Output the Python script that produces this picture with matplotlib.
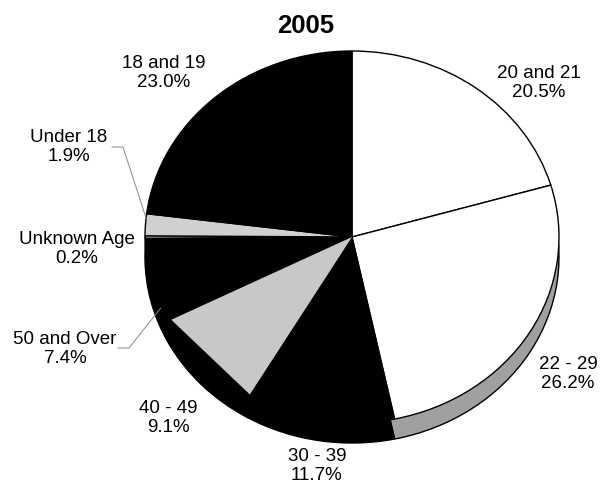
import matplotlib.pyplot as plt
import numpy as np

plt.rcParams['font.family'] = ['Liberation Sans', 'DejaVu Sans']

# age groups, clockwise from the top
labels = ['20 and 21', '22 - 29', '30 - 39', '40 - 49', '50 and Over',
          'Unknown Age', 'Under 18', '18 and 19']
shares = [20.5, 26.2, 11.7, 9.1, 7.4, 0.2, 1.9, 23.0]
top_colors = ['white', 'white', 'black', 'black', 'black', 'white', '#d0d0d0', 'black']
side_colors = ['black', '#a0a0a0', 'black', 'black', 'black', 'black', 'black', 'black']

# pie geometry in pixels (center, x-radius, y-radius, rim depth)
cx, cy, rx, ry, depth = 352, 237, 207, 186, 20
W, H = 608, 491


def px(x, y):
    # pixel position -> data units of the stretched pie
    return (x - cx) / rx, (cy - y) / ry


fig = plt.figure(figsize=(W / 100, H / 100), dpi=100)
ax = fig.add_axes([0, 0, 1, 1])

wp = dict(edgecolor='black', linewidth=1.0)
ax.pie(shares, colors=side_colors, startangle=90, counterclock=False,
       center=(0, -depth / ry), wedgeprops=wp)
wedges, _ = ax.pie(shares, colors=top_colors, startangle=90, counterclock=False,
                   wedgeprops=wp)

# the 40 - 49 slice is printed as a grey triangle inside a black wedge
w = wedges[labels.index('40 - 49')]
t = np.deg2rad([w.theta1, w.theta2])
r = 0.98
ax.fill([0, r * np.cos(t[0]), r * np.cos(t[1])],
        [0, r * np.sin(t[0]), r * np.sin(t[1])],
        color='#c8c8c8', linewidth=0, zorder=3)

ax.set_aspect('auto')
ax.set_xlim(-cx / rx, (W - cx) / rx)
ax.set_ylim(-(H - cy) / ry, cy / ry)
ax.axis('off')

# label positions (pixels)
label_pos = {
    '20 and 21': (539, 83), '22 - 29': (568, 374), '30 - 39': (317, 466),
    '40 - 49': (168, 418), '50 and Over': (65, 349), 'Unknown Age': (77, 249),
    'Under 18': (69, 147), '18 and 19': (164, 73),
}
for lab, val in zip(labels, shares):
    x, y = px(*label_pos[lab])
    ax.text(x, y, f'{lab}\n{val:.1f}%', ha='center', va='center',
            fontsize=13.5, linespacing=1.2, zorder=10)

# leader lines for the two small slices
for lab, (tx, ty), frac in [('Under 18', (112, 147), 0.2), ('50 and Over', (118, 348), 0.83)]:
    w = wedges[labels.index(lab)]
    ang = np.deg2rad(w.theta1 + frac * (w.theta2 - w.theta1))
    ax.plot([px(tx, ty)[0], px(tx + 11, ty)[0], np.cos(ang)],
            [px(tx, ty)[1], px(tx + 11, ty)[1], np.sin(ang)],
            color='#888888', linewidth=0.7, zorder=9)

fig.text(306 / W, 1 - 26 / H, '2005', ha='center', va='center',
         fontsize=18.5, fontweight='bold')

fig.savefig('out.png', dpi=100)
